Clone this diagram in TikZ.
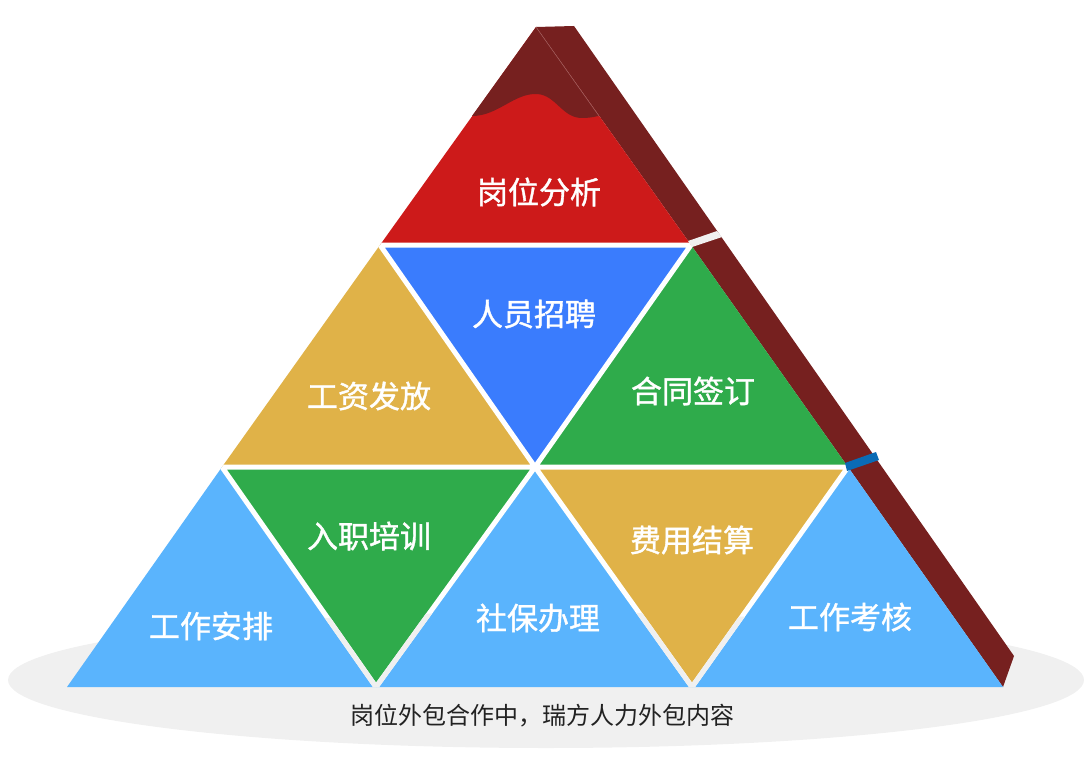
\documentclass[tikz,border=0pt]{standalone}
\usepackage{fontspec}
\newfontfamily\cjk{Noto Sans CJK SC}
\newfontfamily\cjkbold[FakeBold=1.2]{Noto Sans CJK SC}
\definecolor{tred}{HTML}{CD1A1A}
\definecolor{capred}{HTML}{76201F}
\definecolor{tblue}{HTML}{3A7CFD}
\definecolor{tyellow}{HTML}{E0B248}
\definecolor{tgreen}{HTML}{2FAB4B}
\definecolor{tsky}{HTML}{5AB4FD}
\definecolor{groundgray}{HTML}{F0F0F0}
\definecolor{notchblue}{HTML}{0A6BB5}
\definecolor{captiongray}{HTML}{222222}
\begin{document}
\begin{tikzpicture}[x=1pt,y=-1pt,
  gapline/.style={line width=5pt,line cap=round},
  label/.style={font={\cjkbold\fontsize{31}{31}\selectfont},text=white,inner sep=0pt,anchor=center},
  caption/.style={font={\cjk\fontsize{24}{24}\selectfont},text=captiongray,inner sep=0pt,anchor=center}]
\useasboundingbox (0,0) rectangle (1092,757);

% grid points of the pyramid
\coordinate (A)  at (536,27);
\coordinate (L1) at (380,245);
\coordinate (R1) at (691,245);
\coordinate (L2) at (222,467);
\coordinate (M2) at (535,467);
\coordinate (R2) at (848,467);
\coordinate (B0) at (67,687);
\coordinate (B1) at (376,687);
\coordinate (B2) at (692,687);
\coordinate (B3) at (1003,687);
% right side band
\coordinate (S0) at (574,26);
\coordinate (S1) at (1014,656);

% ground shadow
\fill[groundgray] (546,680) ellipse [x radius=538,y radius=68];

% side band
\fill[capred] (A) -- (S0) -- (S1) -- (B3) -- (R2) -- (R1) -- cycle;

% tiles
\fill[tred]    (A) -- (L1) -- (R1) -- cycle;
\fill[tyellow] (L1) -- (L2) -- (M2) -- cycle;
\fill[tblue]   (L1) -- (R1) -- (M2) -- cycle;
\fill[tgreen]  (R1) -- (M2) -- (R2) -- cycle;
\fill[tsky]    (L2) -- (B0) -- (B1) -- cycle;
\fill[tgreen]  (L2) -- (M2) -- (B1) -- cycle;
\fill[tsky]    (M2) -- (B1) -- (B2) -- cycle;
\fill[tyellow] (M2) -- (R2) -- (B2) -- cycle;
\fill[tsky]    (R2) -- (B2) -- (B3) -- cycle;

% dark cap with wavy edge
\fill[capred] (472,116) .. controls (498,116) and (514,93) .. (537,94)
  .. controls (556,95) and (562,118) .. (582,118)
  .. controls (592,118) and (597,116) .. (599,116) -- (A) -- cycle;
\draw[capred!70!white,line width=0.5pt] (A) -- (599,116);

% gaps between tiles
\begin{scope}
  \clip (A) -- (L1) -- (L2) -- (B0) -- (B3) -- (R2) -- (R1) -- cycle;
  \draw[gapline,white] (L1) -- (R1) (L2) -- (R2)
    (L1) -- (M2) -- (B2) (R1) -- (M2) -- (B1) (L2) -- (B1) (R2) -- (B2);
  \clip (546,680) ellipse [x radius=538,y radius=68];
  \draw[gapline,groundgray] (L1) -- (R1) (L2) -- (R2)
    (L1) -- (M2) -- (B2) (R1) -- (M2) -- (B1) (L2) -- (B1) (R2) -- (B2);
\end{scope}

% notches across the side band
\fill[groundgray] (688,241) -- (717,231) -- (722,237) -- (692,247) -- cycle;
\fill[notchblue] (845,463) -- (876,452) -- (879,460) -- (847,471) -- cycle;

% labels
\node[label] (t1) at (539,192) {岗位分析};
\node[label] (t2) at (534,314) {人员招聘};
\node[label] (t3) at (369,396) {工资发放};
\node[label] (t4) at (693,391) {合同签订};
\node[label] (t5) at (369,536) {入职培训};
\node[label] (t6) at (692,540) {费用结算};
\node[label] (t7) at (211,626) {工作安排};
\node[label] (t8) at (538,618) {社保办理};
\node[label] (t9) at (850,617) {工作考核};
\node[caption] (cap) at (542,716) {岗位外包合作中，瑞方人力外包内容};
\end{tikzpicture}
\end{document}
